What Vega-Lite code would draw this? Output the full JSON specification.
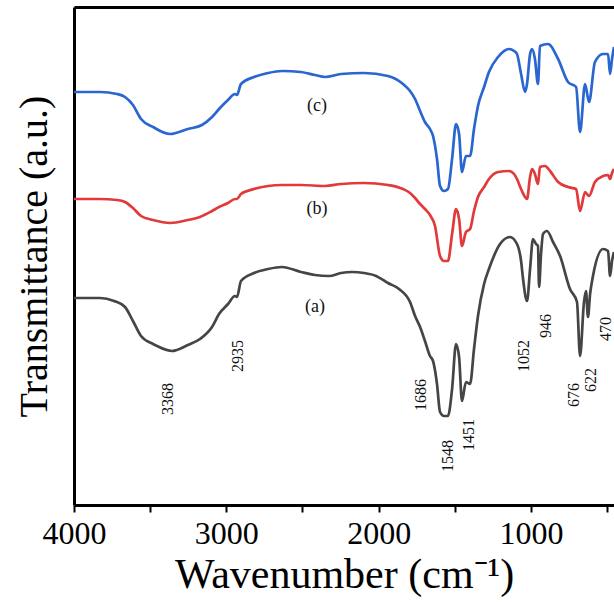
{
  "$schema": "https://vega.github.io/schema/vega-lite/v6.json",
  "width": 540,
  "height": 498,
  "autosize": {"type": "none"},
  "padding": {"left": 74, "top": 7, "right": 0, "bottom": 97},
  "background": "white",
  "config": {"view": {"stroke": null}, "font": "Liberation Serif"},
  "datasets": {
    "spectra": [
      {"s": "c", "wn": 4000, "t": 413}, {"s": "c", "wn": 3829, "t": 413}, {"s": "c", "wn": 3718, "t": 411}, {"s": "c", "wn": 3665, "t": 408}, {"s": "c", "wn": 3613, "t": 400}, {"s": "c", "wn": 3560, "t": 386}, {"s": "c", "wn": 3481, "t": 378}, {"s": "c", "wn": 3370, "t": 371}, {"s": "c", "wn": 3252, "t": 376}, {"s": "c", "wn": 3160, "t": 380}, {"s": "c", "wn": 3094, "t": 388}, {"s": "c", "wn": 3048, "t": 396}, {"s": "c", "wn": 2989, "t": 405}, {"s": "c", "wn": 2943, "t": 411}, {"s": "c", "wn": 2930, "t": 410}, {"s": "c", "wn": 2904, "t": 421}, {"s": "c", "wn": 2818, "t": 428}, {"s": "c", "wn": 2726, "t": 432}, {"s": "c", "wn": 2634, "t": 434}, {"s": "c", "wn": 2510, "t": 433}, {"s": "c", "wn": 2418, "t": 430}, {"s": "c", "wn": 2352, "t": 428}, {"s": "c", "wn": 2247, "t": 431}, {"s": "c", "wn": 2096, "t": 432}, {"s": "c", "wn": 1939, "t": 429}, {"s": "c", "wn": 1840, "t": 421}, {"s": "c", "wn": 1794, "t": 414}, {"s": "c", "wn": 1761, "t": 406}, {"s": "c", "wn": 1728, "t": 394}, {"s": "c", "wn": 1696, "t": 383}, {"s": "c", "wn": 1663, "t": 376}, {"s": "c", "wn": 1643, "t": 369}, {"s": "c", "wn": 1617, "t": 346}, {"s": "c", "wn": 1597, "t": 319}, {"s": "c", "wn": 1571, "t": 314}, {"s": "c", "wn": 1545, "t": 316}, {"s": "c", "wn": 1518, "t": 346}, {"s": "c", "wn": 1492, "t": 381}, {"s": "c", "wn": 1472, "t": 371}, {"s": "c", "wn": 1453, "t": 333}, {"s": "c", "wn": 1427, "t": 349}, {"s": "c", "wn": 1400, "t": 349}, {"s": "c", "wn": 1374, "t": 376}, {"s": "c", "wn": 1348, "t": 399}, {"s": "c", "wn": 1308, "t": 418}, {"s": "c", "wn": 1276, "t": 433}, {"s": "c", "wn": 1216, "t": 448}, {"s": "c", "wn": 1144, "t": 456}, {"s": "c", "wn": 1111, "t": 454}, {"s": "c", "wn": 1092, "t": 451}, {"s": "c", "wn": 1065, "t": 431}, {"s": "c", "wn": 1039, "t": 413}, {"s": "c", "wn": 1026, "t": 421}, {"s": "c", "wn": 1006, "t": 451}, {"s": "c", "wn": 993, "t": 456}, {"s": "c", "wn": 974, "t": 446}, {"s": "c", "wn": 954, "t": 421}, {"s": "c", "wn": 941, "t": 459}, {"s": "c", "wn": 888, "t": 461}, {"s": "c", "wn": 822, "t": 446}, {"s": "c", "wn": 757, "t": 423}, {"s": "c", "wn": 704, "t": 418}, {"s": "c", "wn": 678, "t": 373}, {"s": "c", "wn": 645, "t": 421}, {"s": "c", "wn": 619, "t": 403}, {"s": "c", "wn": 580, "t": 443}, {"s": "c", "wn": 527, "t": 451}, {"s": "c", "wn": 494, "t": 451}, {"s": "c", "wn": 481, "t": 431}, {"s": "c", "wn": 468, "t": 446}, {"s": "c", "wn": 455, "t": 458},
      {"s": "b", "wn": 4000, "t": 306}, {"s": "b", "wn": 3829, "t": 306}, {"s": "b", "wn": 3718, "t": 305}, {"s": "b", "wn": 3665, "t": 303}, {"s": "b", "wn": 3613, "t": 297}, {"s": "b", "wn": 3560, "t": 289}, {"s": "b", "wn": 3481, "t": 285}, {"s": "b", "wn": 3370, "t": 282}, {"s": "b", "wn": 3252, "t": 285}, {"s": "b", "wn": 3173, "t": 288}, {"s": "b", "wn": 3094, "t": 294}, {"s": "b", "wn": 3048, "t": 298}, {"s": "b", "wn": 2989, "t": 302}, {"s": "b", "wn": 2943, "t": 306}, {"s": "b", "wn": 2930, "t": 306}, {"s": "b", "wn": 2904, "t": 311}, {"s": "b", "wn": 2818, "t": 316}, {"s": "b", "wn": 2726, "t": 319}, {"s": "b", "wn": 2634, "t": 320}, {"s": "b", "wn": 2510, "t": 320}, {"s": "b", "wn": 2352, "t": 319}, {"s": "b", "wn": 2247, "t": 321}, {"s": "b", "wn": 2096, "t": 322}, {"s": "b", "wn": 1939, "t": 320}, {"s": "b", "wn": 1840, "t": 316}, {"s": "b", "wn": 1794, "t": 312}, {"s": "b", "wn": 1761, "t": 307}, {"s": "b", "wn": 1728, "t": 301}, {"s": "b", "wn": 1696, "t": 296}, {"s": "b", "wn": 1663, "t": 290}, {"s": "b", "wn": 1630, "t": 279}, {"s": "b", "wn": 1597, "t": 249}, {"s": "b", "wn": 1571, "t": 244}, {"s": "b", "wn": 1545, "t": 244}, {"s": "b", "wn": 1518, "t": 271}, {"s": "b", "wn": 1492, "t": 296}, {"s": "b", "wn": 1472, "t": 286}, {"s": "b", "wn": 1453, "t": 259}, {"s": "b", "wn": 1427, "t": 273}, {"s": "b", "wn": 1400, "t": 276}, {"s": "b", "wn": 1374, "t": 294}, {"s": "b", "wn": 1348, "t": 308}, {"s": "b", "wn": 1308, "t": 318}, {"s": "b", "wn": 1276, "t": 326}, {"s": "b", "wn": 1216, "t": 333}, {"s": "b", "wn": 1144, "t": 334}, {"s": "b", "wn": 1111, "t": 331}, {"s": "b", "wn": 1092, "t": 326}, {"s": "b", "wn": 1065, "t": 316}, {"s": "b", "wn": 1039, "t": 308}, {"s": "b", "wn": 1026, "t": 306}, {"s": "b", "wn": 1006, "t": 328}, {"s": "b", "wn": 993, "t": 336}, {"s": "b", "wn": 974, "t": 331}, {"s": "b", "wn": 954, "t": 321}, {"s": "b", "wn": 941, "t": 338}, {"s": "b", "wn": 908, "t": 339}, {"s": "b", "wn": 875, "t": 334}, {"s": "b", "wn": 822, "t": 323}, {"s": "b", "wn": 757, "t": 318}, {"s": "b", "wn": 704, "t": 316}, {"s": "b", "wn": 678, "t": 294}, {"s": "b", "wn": 645, "t": 313}, {"s": "b", "wn": 619, "t": 309}, {"s": "b", "wn": 580, "t": 323}, {"s": "b", "wn": 527, "t": 329}, {"s": "b", "wn": 494, "t": 330}, {"s": "b", "wn": 481, "t": 326}, {"s": "b", "wn": 468, "t": 332}, {"s": "b", "wn": 455, "t": 336},
      {"s": "a", "wn": 4000, "t": 207}, {"s": "a", "wn": 3829, "t": 207}, {"s": "a", "wn": 3737, "t": 204}, {"s": "a", "wn": 3665, "t": 198}, {"s": "a", "wn": 3613, "t": 184}, {"s": "a", "wn": 3560, "t": 169}, {"s": "a", "wn": 3481, "t": 161}, {"s": "a", "wn": 3455, "t": 159}, {"s": "a", "wn": 3357, "t": 154}, {"s": "a", "wn": 3252, "t": 160}, {"s": "a", "wn": 3173, "t": 166}, {"s": "a", "wn": 3094, "t": 178}, {"s": "a", "wn": 3048, "t": 191}, {"s": "a", "wn": 2989, "t": 201}, {"s": "a", "wn": 2943, "t": 209}, {"s": "a", "wn": 2930, "t": 208}, {"s": "a", "wn": 2904, "t": 224}, {"s": "a", "wn": 2818, "t": 232}, {"s": "a", "wn": 2726, "t": 236}, {"s": "a", "wn": 2634, "t": 238}, {"s": "a", "wn": 2510, "t": 233}, {"s": "a", "wn": 2418, "t": 230}, {"s": "a", "wn": 2326, "t": 229}, {"s": "a", "wn": 2247, "t": 232}, {"s": "a", "wn": 2175, "t": 233}, {"s": "a", "wn": 2096, "t": 232}, {"s": "a", "wn": 2017, "t": 229}, {"s": "a", "wn": 1939, "t": 222}, {"s": "a", "wn": 1866, "t": 216}, {"s": "a", "wn": 1794, "t": 203}, {"s": "a", "wn": 1761, "t": 189}, {"s": "a", "wn": 1728, "t": 178}, {"s": "a", "wn": 1696, "t": 164}, {"s": "a", "wn": 1663, "t": 149}, {"s": "a", "wn": 1643, "t": 144}, {"s": "a", "wn": 1617, "t": 121}, {"s": "a", "wn": 1597, "t": 93}, {"s": "a", "wn": 1571, "t": 89}, {"s": "a", "wn": 1545, "t": 89}, {"s": "a", "wn": 1518, "t": 116}, {"s": "a", "wn": 1492, "t": 161}, {"s": "a", "wn": 1472, "t": 148}, {"s": "a", "wn": 1453, "t": 104}, {"s": "a", "wn": 1427, "t": 123}, {"s": "a", "wn": 1400, "t": 121}, {"s": "a", "wn": 1374, "t": 156}, {"s": "a", "wn": 1348, "t": 189}, {"s": "a", "wn": 1308, "t": 221}, {"s": "a", "wn": 1276, "t": 236}, {"s": "a", "wn": 1203, "t": 261}, {"s": "a", "wn": 1138, "t": 268}, {"s": "a", "wn": 1092, "t": 261}, {"s": "a", "wn": 1065, "t": 244}, {"s": "a", "wn": 1052, "t": 226}, {"s": "a", "wn": 1026, "t": 204}, {"s": "a", "wn": 1006, "t": 236}, {"s": "a", "wn": 987, "t": 266}, {"s": "a", "wn": 967, "t": 261}, {"s": "a", "wn": 954, "t": 259}, {"s": "a", "wn": 947, "t": 218}, {"s": "a", "wn": 934, "t": 251}, {"s": "a", "wn": 921, "t": 271}, {"s": "a", "wn": 895, "t": 274}, {"s": "a", "wn": 855, "t": 263}, {"s": "a", "wn": 809, "t": 249}, {"s": "a", "wn": 744, "t": 216}, {"s": "a", "wn": 698, "t": 203}, {"s": "a", "wn": 678, "t": 149}, {"s": "a", "wn": 652, "t": 203}, {"s": "a", "wn": 639, "t": 214}, {"s": "a", "wn": 626, "t": 188}, {"s": "a", "wn": 612, "t": 211}, {"s": "a", "wn": 593, "t": 229}, {"s": "a", "wn": 527, "t": 256}, {"s": "a", "wn": 494, "t": 254}, {"s": "a", "wn": 481, "t": 229}, {"s": "a", "wn": 468, "t": 244}, {"s": "a", "wn": 455, "t": 253}
    ],
    "peaks": [
      {"wn": 3383, "t": 106, "label": "3368"},
      {"wn": 2923, "t": 149, "label": "2935"},
      {"wn": 1722, "t": 110, "label": "1686"},
      {"wn": 1545, "t": 49, "label": "1548"},
      {"wn": 1407, "t": 70, "label": "1451"},
      {"wn": 1046, "t": 149, "label": "1052"},
      {"wn": 901, "t": 179, "label": "946"},
      {"wn": 717, "t": 110, "label": "676"},
      {"wn": 606, "t": 125, "label": "622"},
      {"wn": 510, "t": 176, "label": "470"}
    ],
    "names": [
      {"wn": 2405, "t": 399, "label": "(c)"},
      {"wn": 2405, "t": 296, "label": "(b)"},
      {"wn": 2418, "t": 198, "label": "(a)"}
    ]
  },
  "layer": [
    {
      "data": {"name": "spectra"},
      "mark": {"type": "line", "strokeWidth": 2.7, "clip": true, "strokeJoin": "round", "interpolate": "monotone"},
      "encoding": {
        "x": {
          "field": "wn", "type": "quantitative",
          "scale": {"domain": [4000, 455], "nice": false, "zero": false},
          "axis": {
            "orient": "bottom",
            "values": [4000, 3500, 3000, 2500, 2000, 1500, 1000, 500],
            "format": "d",
            "labelExpr": "datum.value % 1000 === 0 ? datum.label : ''",
            "labelFont": "Liberation Serif", "labelFontSize": 32, "labelColor": "black",
            "labelPadding": 6, "labelFlush": false, "labelOverlap": false,
            "tickColor": "black", "tickWidth": 2, "tickSize": 7,
            "domainColor": "black", "domainWidth": 3, "grid": false,
            "title": "Wavenumber (cm⁻¹)",
            "titleFont": "Liberation Serif", "titleFontSize": 42, "titleFontWeight": "normal", "titleColor": "black", "titlePadding": 5
          }
        },
        "y": {
          "field": "t", "type": "quantitative",
          "scale": {"domain": [0, 498], "nice": false, "zero": false},
          "axis": {
            "labels": false, "ticks": false, "grid": false,
            "domainColor": "black", "domainWidth": 3,
            "title": "Transmittance (a.u.)",
            "titleFont": "Liberation Serif", "titleFontSize": 40, "titleFontWeight": "normal", "titleColor": "black", "titlePadding": 20
          }
        },
        "color": {
          "field": "s", "type": "nominal", "legend": null,
          "scale": {"domain": ["a", "b", "c"], "range": ["#454545", "#e03a3a", "#2a66d0"]}
        }
      }
    },
    {
      "data": {"name": "peaks"},
      "mark": {"type": "text", "font": "Liberation Serif", "fontSize": 16, "angle": 270, "align": "center", "baseline": "middle", "color": "#111111"},
      "encoding": {
        "x": {
          "field": "wn", "type": "quantitative",
          "axis": {"orient": "top", "labels": false, "ticks": false, "grid": false, "domainColor": "black", "domainWidth": 3, "title": null}
        },
        "y": {
          "field": "t", "type": "quantitative",
          "axis": {
            "labels": false, "ticks": false, "grid": false,
            "domainColor": "black", "domainWidth": 3,
            "title": "Transmittance (a.u.)",
            "titleFont": "Liberation Serif", "titleFontSize": 40, "titleFontWeight": "normal", "titleColor": "black", "titlePadding": 20
          }
        },
        "text": {"field": "label"}
      }
    },
    {
      "data": {"name": "names"},
      "mark": {"type": "text", "font": "Liberation Serif", "fontSize": 18, "align": "center", "baseline": "middle", "color": "#111111"},
      "encoding": {
        "x": {"field": "wn", "type": "quantitative", "axis": null},
        "y": {
          "field": "t", "type": "quantitative",
          "axis": {
            "labels": false, "ticks": false, "grid": false,
            "domainColor": "black", "domainWidth": 3,
            "title": "Transmittance (a.u.)",
            "titleFont": "Liberation Serif", "titleFontSize": 40, "titleFontWeight": "normal", "titleColor": "black", "titlePadding": 20
          }
        },
        "text": {"field": "label"}
      }
    }
  ],
  "resolve": {"axis": {"x": "independent"}}
}
